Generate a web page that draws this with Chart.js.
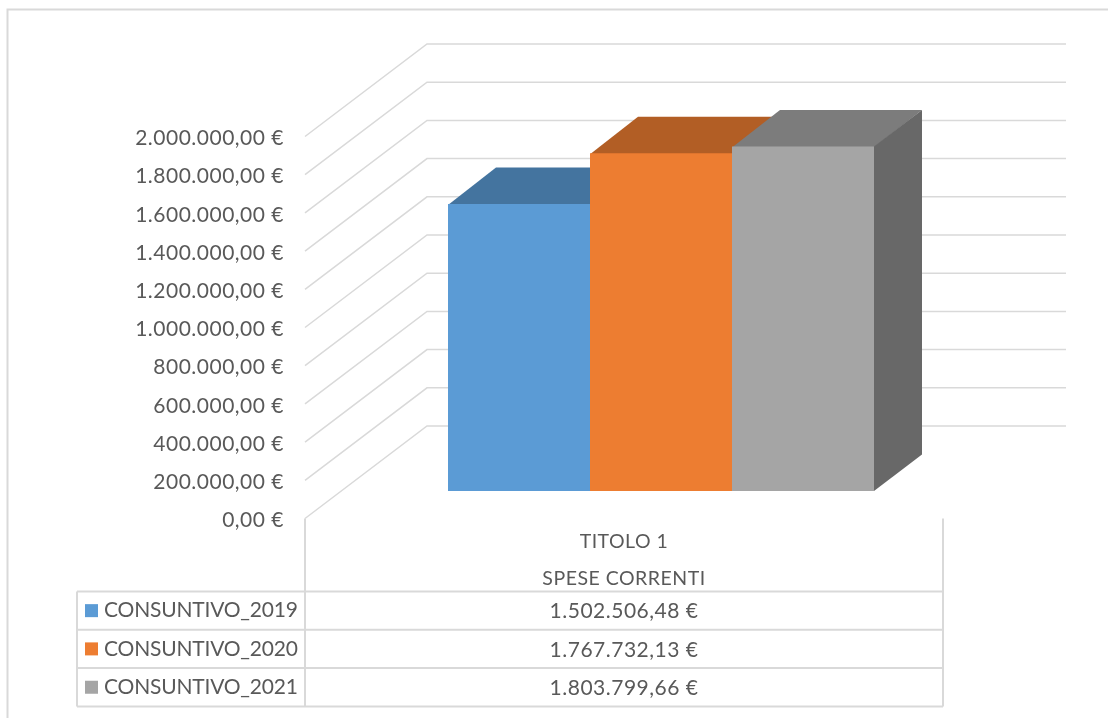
<!DOCTYPE html>
<html>
<head>
<meta charset="utf-8">
<script src="https://cdn.jsdelivr.net/npm/chart.js@4"></script>
<style>
    html, body { margin: 0; padding: 0; background: #ffffff; overflow: hidden; }
    canvas { display: block; }
</style>
</head>
<body>
<canvas id="chart" width="1108" height="718"></canvas>
<script>
// Data
const categories = [["TITOLO 1", "SPESE CORRENTI"]];
const seriesNames = ["CONSUNTIVO_2019", "CONSUNTIVO_2020", "CONSUNTIVO_2021"];
const consuntivo2019 = [1502506.48];
const consuntivo2020 = [1767732.13];
const consuntivo2021 = [1803799.66];
const seriesValues = [consuntivo2019, consuntivo2020, consuntivo2021];

// Colours
const frontColors = ["#5B9BD5", "#ED7D31", "#A5A5A5"];
const topColors = ["#44749F", "#B25E25", "#7C7C7C"];
const sideColors = ["#375D80", "#8E4B1D", "#686868"];
const lineColor = "#D9D9D9";
const textColor = "#595959";
const fontName = "Lato, 'Open Sans', sans-serif";
const fontSize = 21;

// 3D look: how far the back wall and the bars sit behind the front plane
const wallDepth = { x: 122, y: -92.5 };
const barShift = { x: 37, y: -27.5 };
const barDepth = { x: 48, y: -36.5 };
const tableRows = [591.5, 629.8, 668, 706.5];
const tableLeft = 77;
const wallRight = 1066;

// 1234.5 -> 1.234,50 €
function euro(value) {
    let parts = value.toFixed(2).split(".");
    return parts[0].replace(/\B(?=(\d{3})+$)/g, ".") + "," + parts[1] + " €";
}

function line(ctx, points, width) {
    ctx.beginPath();
    ctx.moveTo(points[0][0], points[0][1]);
    for (let i = 1; i < points.length; i++) {
        ctx.lineTo(points[i][0], points[i][1]);
    }
    ctx.lineWidth = width;
    ctx.strokeStyle = lineColor;
    ctx.stroke();
}

function face(ctx, points, color) {
    ctx.beginPath();
    ctx.moveTo(points[0][0], points[0][1]);
    for (let i = 1; i < points.length; i++) {
        ctx.lineTo(points[i][0], points[i][1]);
    }
    ctx.closePath();
    ctx.fillStyle = color;
    ctx.fill();
}

const perspective = {
    id: "perspective",
    beforeDraw(chart) {
        // Lato runs a bit narrower than the original font
        chart.ctx.letterSpacing = "0.5px";
        // Outer chart frame, only top and left are in the shot
        line(chart.ctx, [[7.5, 718], [7.5, 9.5], [1108, 9.5]], 2);
    },
    beforeDatasetsDraw(chart) {
        const ctx = chart.ctx;
        const x = chart.scales.x;
        const y = chart.scales.y;
        // Side wall and back wall gridlines
        for (let tick of y.ticks) {
            let py = y.getPixelForValue(tick.value);
            line(ctx, [[x.left, py], [x.left + wallDepth.x, py + wallDepth.y], [wallRight, py + wallDepth.y]], 1.5);
        }
        // Bars left to right, the library would paint the left one last
        for (let i = 0; i < seriesNames.length; i++) {
            let meta = chart.getDatasetMeta(i);
            ctx.save();
            ctx.translate(barShift.x, barShift.y);
            for (let bar of meta.data) {
                let left = bar.x - bar.width / 2;
                let right = bar.x + bar.width / 2;
                let backY = bar.y + barDepth.y;
                // front edge 1px low so the bar behind does not show through the seam
                face(ctx, [[left, bar.y + 1], [right, bar.y + 1], [right + barDepth.x, backY], [left + barDepth.x, backY]], topColors[i]);
                face(ctx, [[right, bar.y], [right + barDepth.x, backY], [right + barDepth.x, bar.base + barDepth.y], [right, bar.base]], sideColors[i]);
            }
            meta.controller.draw();
            ctx.restore();
        }
        return false;
    },
    afterDraw(chart) {
        // Data table with the legend keys in its first column
        const ctx = chart.ctx;
        const x = chart.scales.x;
        const y = chart.scales.y;
        line(ctx, [[x.left, y.bottom], [x.left, tableRows[3]]], 2);
        line(ctx, [[x.right, y.bottom], [x.right, tableRows[3]]], 2);
        line(ctx, [[tableLeft, tableRows[0]], [tableLeft, tableRows[3]]], 2);
        for (let row of tableRows) {
            line(ctx, [[tableLeft, row], [x.right, row]], 2);
        }
        ctx.font = fontSize + "px " + fontName;
        ctx.textBaseline = "middle";
        for (let i = 0; i < seriesNames.length; i++) {
            let middle = (tableRows[i] + tableRows[i + 1]) / 2;
            ctx.fillStyle = frontColors[i];
            ctx.fillRect(85, middle - 6.5, 13, 13);
            ctx.fillStyle = textColor;
            ctx.textAlign = "left";
            ctx.letterSpacing = "-0.2px";
            ctx.fillText(seriesNames[i], 104, middle);
            ctx.textAlign = "center";
            ctx.letterSpacing = "0.5px";
            ctx.fillText(euro(seriesValues[i][0]), x.getPixelForValue(0), middle + 1);
        }
        ctx.letterSpacing = "0px";
    }
};

let datasets = [];
for (let i = 0; i < seriesNames.length; i++) {
    datasets.push({
        label: seriesNames[i],
        data: seriesValues[i],
        backgroundColor: frontColors[i],
        borderWidth: 0
    });
}

new Chart(document.getElementById("chart"), {
    type: "bar",
    data: {
        labels: categories,
        datasets: datasets
    },
    options: {
        responsive: false,
        animation: false,
        layout: {
            padding: { top: 136.5, right: 165, left: 0, bottom: 0 }
        },
        scales: {
            y: {
                min: 0,
                max: 2000000,
                afterFit(scale) { scale.width = 305; },
                grid: { display: false, drawTicks: false },
                border: { display: false },
                ticks: {
                    stepSize: 200000,
                    padding: 21,
                    color: textColor,
                    font: { family: fontName, size: fontSize, lineHeight: "4px" },
                    // empty first line pushes the label 2px down, onto its gridline
                    callback: (value) => ["", euro(value)]
                }
            },
            x: {
                afterFit(scale) { scale.height = 199.5; },
                grid: { display: false, drawTicks: false },
                border: { display: false },
                ticks: {
                    padding: 5,
                    maxRotation: 0,
                    color: textColor,
                    font: { family: fontName, size: 19.5, lineHeight: "37px" }
                }
            }
        },
        datasets: {
            bar: { barPercentage: 1, categoryPercentage: 0.6677 }
        },
        plugins: {
            legend: { display: false },
            title: { display: false },
            tooltip: { enabled: false }
        }
    },
    plugins: [perspective]
});
</script>
</body>
</html>
